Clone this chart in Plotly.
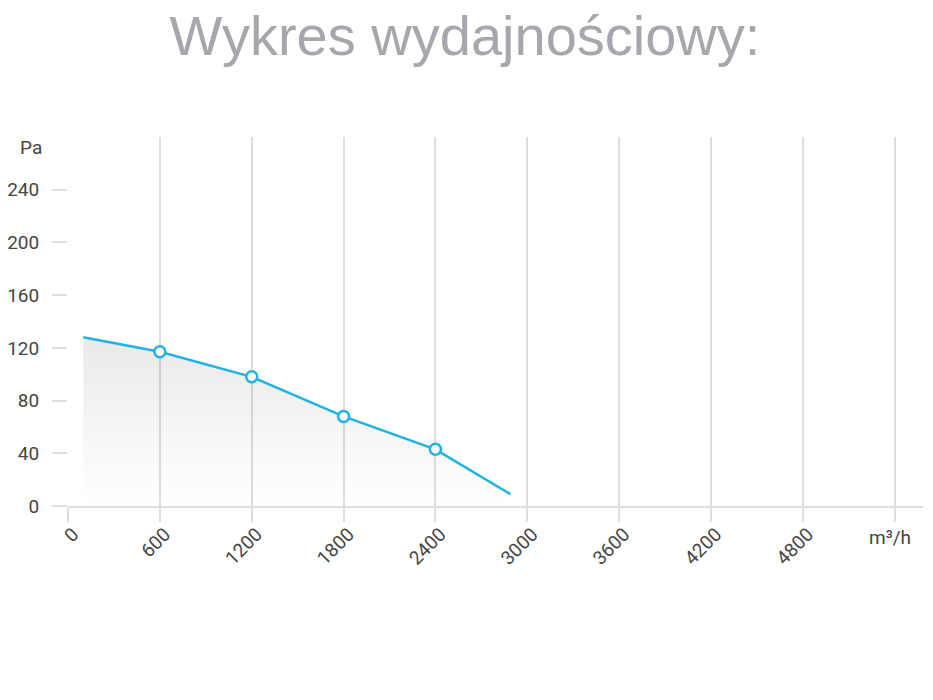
import plotly.graph_objects as go

flow = [100, 600, 1200, 1800, 2400, 2890]
pressure = [128, 117, 98, 68, 43, 9]
marker_flow = [600, 1200, 1800, 2400]
marker_pressure = [117, 98, 68, 43]
x_ticks = [0, 600, 1200, 1800, 2400, 3000, 3600, 4200, 4800, 5400]
x_labels = ["0", "600", "1200", "1800", "2400", "3000", "3600", "4200", "4800", ""]
y_ticks = [0, 40, 80, 120, 160, 200, 240]

LINE = "#1eb3e2"
GRID = "#dedede"
TXT = "#454545"

fig = go.Figure()
fig.add_trace(go.Scatter(
    x=flow, y=pressure, mode="lines",
    line=dict(color=LINE, width=2.5),
    fill="tozeroy",
    fillgradient=dict(type="vertical",
                      colorscale=[[0, "rgba(0,0,0,0)"], [1, "rgba(0,0,0,0.085)"]]),
    hoverinfo="skip", showlegend=False,
))
fig.add_trace(go.Scatter(
    x=marker_flow, y=marker_pressure, mode="markers",
    marker=dict(size=11, color="white", line=dict(color=LINE, width=2.5)),
    showlegend=False,
))

fig.update_layout(
    width=933, height=700,
    paper_bgcolor="white", plot_bgcolor="white",
    margin=dict(l=59.5, r=18, t=129, b=202, autoexpand=False),
    font=dict(family="Roboto", color=TXT, size=19),
    title=dict(text="Wykres wydajnościowy:", x=457 / 933, xanchor="center",
               y=1 - 27 / 700, yanchor="middle", yref="container",
               font=dict(family="Liberation Sans, Arial", size=56, color="#a5a7ac")),
    xaxis=dict(range=[0, 5585], tickmode="array", tickvals=x_ticks, ticktext=x_labels,
               tickangle=-45, showgrid=True, gridcolor=GRID, gridwidth=1.5,
               ticks="outside", ticklen=14, tickwidth=1.5, tickcolor=GRID,
               showline=True, linecolor=GRID, linewidth=1.5, zeroline=False,
               ticklabelstandoff=-6, ticklabelshift=5, automargin=False,
               tickfont=dict(size=19, color=TXT)),
    yaxis=dict(range=[0, 280], tickmode="array", tickvals=y_ticks,
               showgrid=False, zeroline=False, showline=False,
               ticks="outside", ticklen=15, tickwidth=1.5, tickcolor=GRID,
               ticklabelstandoff=9, automargin=False,
               tickfont=dict(size=19, color=TXT)),
    annotations=[
        dict(text="Pa", x=0, xref="paper", y=272, yref="y", xanchor="right",
             xshift=-24.5, yanchor="middle", showarrow=False,
             font=dict(size=19, color=TXT)),
        dict(text="m³/h", x=5400, xref="x", y=0, yref="y", xanchor="right",
             xshift=18, yanchor="middle", yshift=-31, showarrow=False,
             font=dict(size=19, color=TXT)),
    ],
)

fig.write_html("out.html")
